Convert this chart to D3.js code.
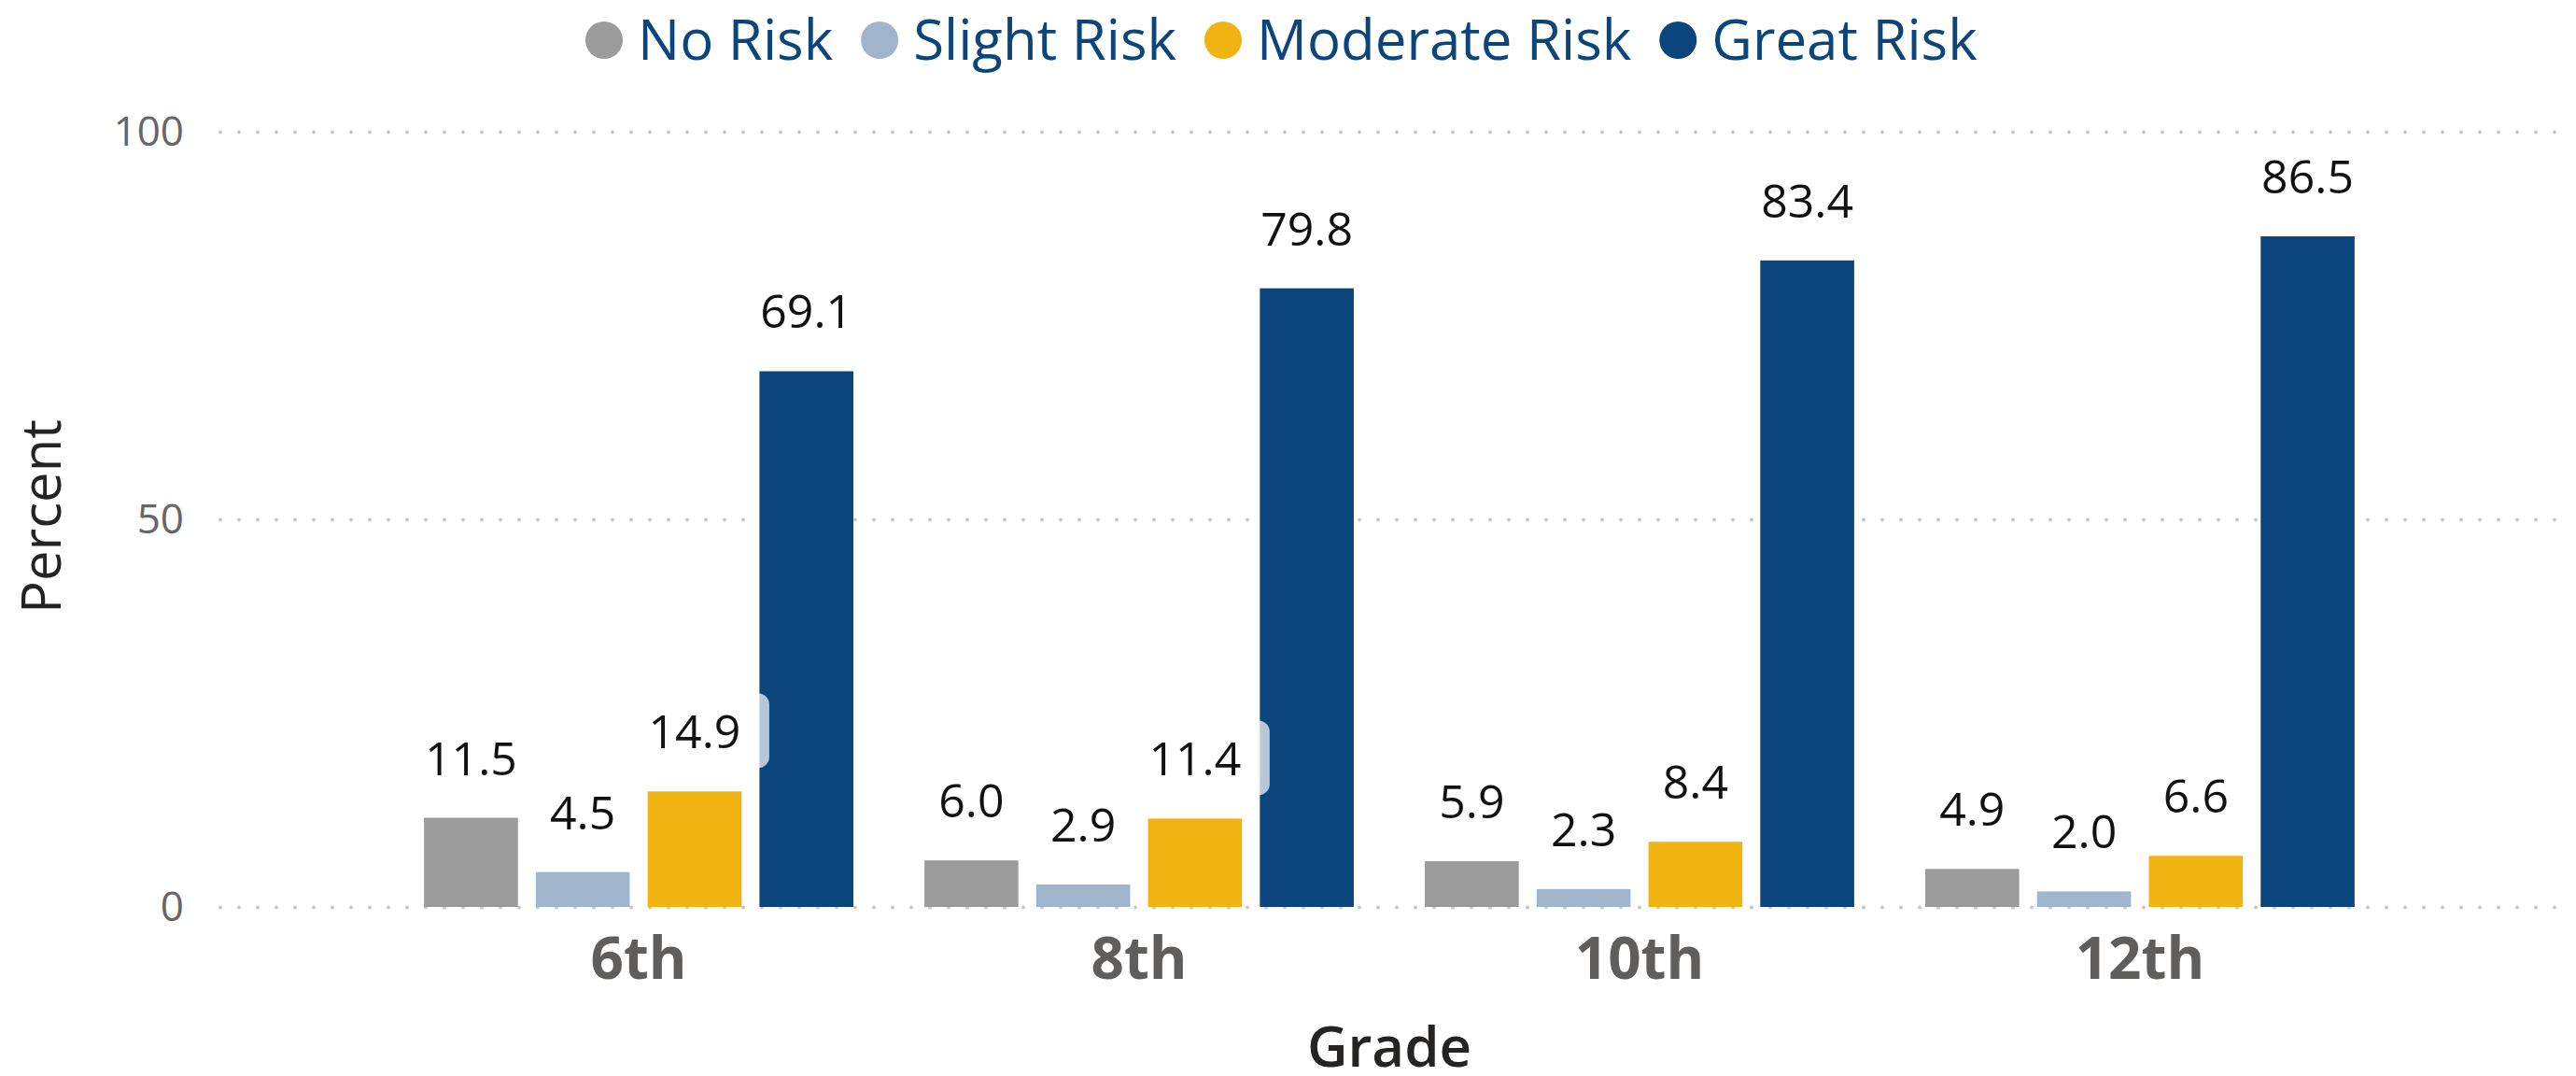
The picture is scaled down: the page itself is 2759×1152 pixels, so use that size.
<!DOCTYPE html>
<html>
<head>
<meta charset="utf-8">
<title>Perceived risk by grade</title>
<script src="https://cdn.jsdelivr.net/npm/d3@7"></script>
<style>
  body { margin: 0; background: #fff; }
  text { font-family: "Segoe UI", "Open Sans", sans-serif; }
</style>
</head>
<body>
<svg id="chart"></svg>
<script>
var grades = ["6th", "8th", "10th", "12th"];
var series = ["No Risk", "Slight Risk", "Moderate Risk", "Great Risk"];
var noRisk = [11.5, 6.0, 5.9, 4.9];
var slightRisk = [4.5, 2.9, 2.3, 2.0];
var moderateRisk = [14.9, 11.4, 8.4, 6.6];
var greatRisk = [69.1, 79.8, 83.4, 86.5];
var yTicks = [0, 50, 100];
var colors = ["#9b9b9b", "#a0b5cb", "#f0b312", "#0b457b"];

var width = 2759, height = 1152;
// plot edges (note: "top" is a read-only global, so use other names)
var plotLeft = 236, plotRight = 2740, plotTop = 141, plotBottom = 971;

var svg = d3.select("#chart").attr("width", width).attr("height", height);

var values = [noRisk, slightRisk, moderateRisk, greatRisk];
var rows = grades.map(function (g, i) {
  return { grade: g, bars: series.map(function (s, j) { return { series: s, value: values[j][i] }; }) };
});

var x0 = d3.scaleBand().domain(grades).range([plotLeft, plotRight]).paddingInner(0.142).paddingOuter(0.407);
var x1 = d3.scaleBand().domain(series).range([0, x0.bandwidth()]).paddingInner(0.16);
var y = d3.scaleLinear().domain([0, 100]).range([plotBottom, plotTop]);
var color = d3.scaleOrdinal().domain(series).range(colors);

// gridlines + y tick labels
var yAxis = svg.append("g")
  .attr("transform", "translate(" + plotLeft + ",0)")
  .call(d3.axisLeft(y).tickValues(yTicks).tickSize(-(plotRight - plotLeft)).tickPadding(39));
yAxis.select(".domain").remove();
yAxis.selectAll("line")
  .attr("stroke", "#c8c8c8").attr("stroke-width", 4)
  .attr("stroke-linecap", "round").attr("stroke-dasharray", "0 20");
yAxis.selectAll("text")
  .attr("fill", "#666").style("font-size", "44px").style("font-family", "'Open Sans', sans-serif");

// x axis labels
var xAxis = svg.append("g")
  .attr("transform", "translate(0," + plotBottom + ")")
  .call(d3.axisBottom(x0).tickSize(0).tickPadding(33));
xAxis.select(".domain").remove();
xAxis.selectAll("text")
  .attr("fill", "#605e5c").style("font-size", "62px").style("font-weight", "700")
  .style("font-family", "'Segoe UI', 'Open Sans', sans-serif");

// bars
var groups = svg.selectAll(".grade").data(rows)
  .enter().append("g")
    .attr("class", "grade")
    .attr("transform", function (d) { return "translate(" + x0(d.grade) + ",0)"; });

groups.selectAll("rect.bar").data(function (d) { return d.bars; })
  .enter().append("rect")
    .attr("class", "bar")
    .attr("x", function (d) { return x1(d.series); })
    .attr("y", function (d) { return y(d.value); })
    .attr("width", x1.bandwidth())
    .attr("height", function (d) { return y(0) - y(d.value); })
    .attr("fill", function (d) { return color(d.series); });

// faint label backgrounds that show over the neighbouring bar in the first two groups
groups.filter(function (d) { return d.grade === "6th" || d.grade === "8th"; })
  .selectAll("rect.lblbg").data(function (d) { return d.bars.filter(function (b) { return b.series === "Moderate Risk"; }); })
  .enter().append("rect")
    .attr("class", "lblbg")
    .attr("x", function (d) { return x1(d.series) + x1.bandwidth() / 2 - 80; })
    .attr("y", function (d) { return y(d.value) - 46 - 59; })
    .attr("width", 160).attr("height", 80).attr("rx", 12)
    .attr("fill", "#fff").attr("fill-opacity", 0.7);

// data labels
groups.selectAll("text.val").data(function (d) { return d.bars; })
  .enter().append("text")
    .attr("class", "val")
    .attr("x", function (d) { return x1(d.series) + x1.bandwidth() / 2; })
    .attr("y", function (d) { return y(d.value) - 46; })
    .attr("text-anchor", "middle")
    .attr("fill", "#111")
    .style("font-size", "50px")
    .text(function (d) { return d3.format(".1f")(d.value); });

// legend
var legend = svg.append("g").attr("transform", "translate(0,43)");
var lx = 647;
series.forEach(function (s) {
  legend.append("circle").attr("cx", lx).attr("cy", 0).attr("r", 20).attr("fill", color(s));
  var t = legend.append("text")
    .attr("x", lx + 36).attr("y", 0).attr("dy", "0.35em")
    .attr("fill", "#0b457b").style("font-size", "60px")
    .text(s);
  lx = lx + 36 + t.node().getComputedTextLength() + 50;
});

// axis titles
svg.append("text")
  .attr("transform", "translate(65," + ((plotTop + plotBottom) / 2 - 3) + ") rotate(-90)")
  .attr("text-anchor", "middle").attr("fill", "#252423")
  .style("font-size", "58px")
  .text("Percent");

svg.append("text")
  .attr("x", (plotLeft + plotRight) / 2).attr("y", 1142)
  .attr("text-anchor", "middle").attr("fill", "#252423")
  .style("font-size", "60px").style("font-weight", "600")
  .text("Grade");
</script>
</body>
</html>
